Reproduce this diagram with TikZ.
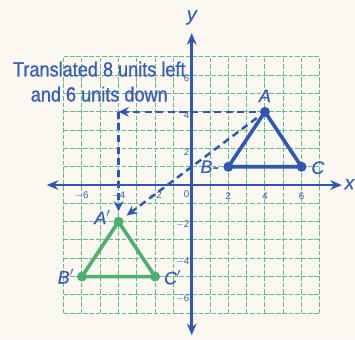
\documentclass[tikz,border=0pt]{standalone}
\usepackage{fontspec}
\setmainfont{Liberation Sans}
\newfontfamily\condfont{Liberation Sans}[FakeStretch=0.88,FakeBold=0.8]
\newfontfamily\lblfont{Liberation Sans}[FakeBold=0.5]
\usetikzlibrary{arrows.meta}
\definecolor{paper}{HTML}{FAF8F0}
\definecolor{axblue}{HTML}{2F57B3}
\definecolor{txtblue}{HTML}{3A5DB8}
\definecolor{gridgreen}{HTML}{62BC8E}
\definecolor{trigreen}{HTML}{4DB072}
\tikzset{
  gridline/.style={gridgreen, line width=0.8pt, dash pattern=on 3.6pt off 1.4pt},
  axis/.style={axblue, line width=2pt, -{Stealth[length=9pt,width=7.5pt]}},
  tri/.style={line width=2.8pt, line join=round},
  bluedot/.style={circle, fill=axblue, inner sep=0pt, minimum size=7.5pt},
  greendot/.style={circle, fill=trigreen, inner sep=0pt, minimum size=7.5pt},
  tick/.style={txtblue, font=\fontsize{7.5}{8}\selectfont, inner sep=1pt},
  ptlabel/.style={txtblue, font=\lblfont\fontsize{14}{15}\selectfont\itshape, inner sep=1pt},
  movearrow/.style={axblue, line width=1.9pt, dash pattern=on 5.5pt off 3.5pt, -{Stealth[length=8pt,width=7.5pt]}},
  title/.style={txtblue, font=\condfont\fontsize{16}{19.5}\selectfont, align=center, inner sep=0pt}
}
\begin{document}
\begin{tikzpicture}[x=0.5cm, y=0.5cm]
\fill[paper] (-10.475,-8.415) rectangle (8.92,10.11);
\useasboundingbox (-10.475,-8.415) rectangle (8.92,10.11);
% grid
\foreach \k in {-7,...,7} {
  \draw[gridline] (\k,-7) -- (\k,7);
  \draw[gridline] (-7,\k) -- (7,\k);
}
% axes
\coordinate (xl) at (-7.92,0);
\coordinate (xr) at (8.2,0);
\coordinate (yt) at (0,8.3);
\coordinate (yb) at (0,-8.2);
\draw[axis] (0,0) -- (xr);
\draw[axis] (0,0) -- (xl);
\draw[axis] (0,0) -- (yt);
\draw[axis] (0,0) -- (yb);
\node[txtblue, font=\lblfont\fontsize{15}{16}\selectfont\itshape, inner sep=0pt] (xlab) at (8.62,0.05) {x};
\node[txtblue, font=\lblfont\fontsize{15}{16}\selectfont\itshape] (ylab) at (0,9.15) {y};
% tick labels
\foreach \v in {-6,-4,-2,2,4,6} {
  \node[tick] (tx\v) at (\v,-0.6) {\ifnum\v<0 $-$\the\numexpr-\v\relax\else\v\fi};
  \node[tick, anchor=east] (ty\v) at (-0.05,\v-0.18) {\ifnum\v<0 $-$\the\numexpr-\v\relax\else\v\fi};
}
\node[tick, anchor=east] (t0) at (-0.05,-0.5) {0};
% points
\node[bluedot] (A) at (4,4) {};
\node[bluedot] (B) at (2,1) {};
\node[bluedot] (C) at (6,1) {};
\node[greendot] (A2) at (-4,-2) {};
\node[greendot] (B2) at (-6,-5) {};
\node[greendot] (C2) at (-2,-5) {};
\coordinate (K) at (-4,4);
% translation arrows
\draw[movearrow, shorten <=3pt] (A) -- (K);
\draw[movearrow, shorten >=4pt] (K) -- (A2);
\draw[movearrow, shorten <=4pt, shorten >=4pt] (A) -- (A2);
% triangles
\draw[tri, axblue] (A.center) -- (B.center) -- (C.center) -- cycle;
\draw[tri, trigreen] (A2.center) -- (B2.center) -- (C2.center) -- cycle;
\node[bluedot] at (A) {};
\node[bluedot] at (B) {};
\node[bluedot] at (C) {};
\node[greendot] at (A2) {};
\node[greendot] at (B2) {};
\node[greendot] at (C2) {};
% point labels
\node[ptlabel, anchor=south] (lA) at (4,4.45) {A};
\node[ptlabel, anchor=east] (lB) at (1.55,1) {B-};
\node[ptlabel, anchor=west] (lC) at (6.45,0.95) {C};
\node[ptlabel, anchor=east] (lA2) at (-4.35,-1.75) {A$'$};
\node[ptlabel, anchor=east] (lB2) at (-6.35,-5) {B$'$};
\node[ptlabel, anchor=west] (lC2) at (-1.6,-5.05) {C$'$};
% title
\node[title] (title) at (-5.05,5.65) {Translated 8 units left\\and 6 units down};
\end{tikzpicture}
\end{document}
